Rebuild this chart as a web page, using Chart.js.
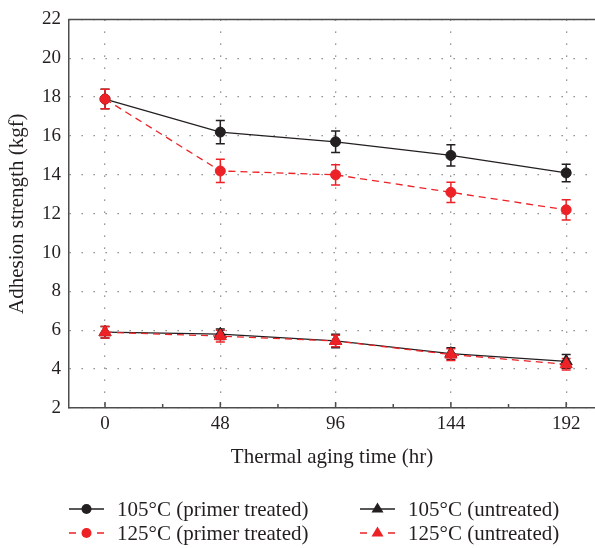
<!DOCTYPE html>
<html>
<head>
<meta charset="utf-8">
<script src="https://cdn.jsdelivr.net/npm/chart.js@4.4.1/dist/chart.umd.min.js"></script>
<style>
  body { margin: 0; background: #fff; }
  #wrap { position: relative; width: 595px; height: 548px; }
  .item { position: absolute; height: 24px; line-height: 24px; font-family: "Liberation Serif", serif;
          font-size: 21px; color: #231f20; white-space: nowrap; }
  .item canvas { position: absolute; top: 0; }
</style>
</head>
<body>
<div id="wrap">
  <canvas id="chart" width="595" height="548"></canvas>
  <div id="legend"></div>
</div>
<script>
// ---- data ----
const hours = [0, 48, 96, 144, 192];
const xTicks = [0, 48, 96, 144, 192];
const xMinorTicks = [24, 72, 120, 168];

const primer105 = [17.9, 16.2, 15.7, 15.0, 14.1];
const primer105Err = [0.5, 0.6, 0.55, 0.55, 0.45];
const primer125 = [17.9, 14.2, 14.0, 13.1, 12.2];
const primer125Err = [0.5, 0.6, 0.52, 0.52, 0.52];
const untreated105 = [5.9, 5.8, 5.45, 4.8, 4.4];
const untreated105Err = [0.3, 0.27, 0.35, 0.3, 0.35];
const untreated125 = [5.9, 5.7, 5.45, 4.75, 4.25];
const untreated125Err = [0.3, 0.3, 0.3, 0.3, 0.3];

const BLACK = "#231f20";
const RED = "#ec2227";
const AXIS = "#4d4d4d";
const FONT = "'Liberation Serif', serif";
const PLOT_TOP = 15;

function pts(vals) {
  return hours.map((h, i) => ({ x: h, y: vals[i] }));
}

const series = [
  { label: "105°C (primer treated)", data: primer105, err: primer105Err, color: BLACK, dash: [], shape: "circle", r: 5, order: 2 },
  { label: "125°C (primer treated)", data: primer125, err: primer125Err, color: RED, dash: [7, 5], shape: "circle", r: 5, order: 1 },
  { label: "105°C (untreated)", data: untreated105, err: untreated105Err, color: BLACK, dash: [], shape: "triangle", r: 7, order: 2 },
  { label: "125°C (untreated)", data: untreated125, err: untreated125Err, color: RED, dash: [7, 5], shape: "triangle", r: 7, order: 1 }
];

// ---- plugins ----
const errorBars = {
  id: "errorBars",
  beforeDatasetsDraw(chart) {
    const ctx = chart.ctx;
    const y = chart.scales.y;
    chart.getSortedVisibleDatasetMetas().slice().reverse().forEach(meta => {
      const ds = chart.data.datasets[meta.index];
      ctx.save();
      ctx.strokeStyle = ds.borderColor;
      ctx.lineWidth = 1.5;
      meta.data.forEach((p, i) => {
        const v = ds.data[i].y, e = ds.errors[i];
        const t = y.getPixelForValue(v + e), b = y.getPixelForValue(v - e);
        ctx.beginPath();
        ctx.moveTo(p.x, t); ctx.lineTo(p.x, b);
        ctx.moveTo(p.x - 4.5, t); ctx.lineTo(p.x + 4.5, t);
        ctx.moveTo(p.x - 4.5, b); ctx.lineTo(p.x + 4.5, b);
        ctx.stroke();
      });
      ctx.restore();
    });
  }
};

// top frame line + inward ticks on the time axis
const frame = {
  id: "frame",
  beforeDatasetsDraw(chart) {
    const { ctx, chartArea: a, scales: { x } } = chart;
    ctx.save();
    ctx.strokeStyle = AXIS;
    ctx.lineWidth = 1.5;
    ctx.beginPath();
    ctx.moveTo(a.left - 0.75, a.top);
    ctx.lineTo(a.right, a.top);
    xTicks.forEach(v => {
      const px = x.getPixelForValue(v);
      ctx.moveTo(px, a.bottom); ctx.lineTo(px, a.bottom - 6);
    });
    xMinorTicks.forEach(v => {
      const px = x.getPixelForValue(v);
      ctx.moveTo(px, a.bottom); ctx.lineTo(px, a.bottom - 4);
    });
    ctx.stroke();
    ctx.restore();
  }
};

// ---- chart ----
const chart = new Chart(document.getElementById("chart"), {
  type: "line",
  data: {
    datasets: series.map(s => ({
      label: s.label,
      data: pts(s.data),
      errors: s.err,
      borderColor: s.color,
      backgroundColor: s.color,
      borderWidth: 1.3,
      borderDash: s.dash,
      pointStyle: s.shape,
      pointRadius: s.r,
      pointBorderWidth: 1,
      pointBackgroundColor: s.color,
      pointBorderColor: s.color,
      order: s.order,
      tension: 0
    }))
  },
  options: {
    responsive: false,
    animation: false,
    devicePixelRatio: 1,
    // layout puts ~4.4px more above the plot than asked for
    layout: { autoPadding: false, padding: { top: 10.6, right: 0, bottom: 75, left: 0 } },
    plugins: { legend: { display: false }, tooltip: { enabled: false } },
    scales: {
      x: {
        type: "linear",
        min: -15,
        max: 204,
        afterBuildTicks: s => { s.ticks = xTicks.map(v => ({ value: v })); },
        afterFit: s => { s.height = 65; },
        ticks: { font: { family: FONT, size: 19 }, color: BLACK, padding: 5, maxRotation: 0, autoSkip: false },
        grid: { color: "#7a7a7a", lineWidth: 1.3, drawTicks: false },
        border: { display: true, color: AXIS, width: 1.5, dash: [1.3, 10.7] },
        title: { display: true, text: "Thermal aging time (hr)", font: { family: FONT, size: 21 }, color: BLACK, padding: { top: 0, bottom: 3 } }
      },
      y: {
        min: 2,
        max: 22,
        afterFit: s => { s.width = 69; },
        ticks: { stepSize: 2, font: { family: FONT, size: 19 }, color: BLACK, padding: 8 },
        grid: { color: "#7a7a7a", lineWidth: 1.3, drawTicks: false },
        border: { display: true, color: AXIS, width: 1.5, dash: [1.3, 10.7] },
        title: { display: true, text: "Adhesion strength (kgf)", font: { family: FONT, size: 21 }, color: BLACK, padding: { top: 5, bottom: 0 } }
      }
    }
  },
  plugins: [errorBars, frame]
});

// fine-tune if the plot top still misses PLOT_TOP
const extraTop = chart.chartArea.top - PLOT_TOP;
if (Math.abs(extraTop) > 0.5) {
  chart.config.options.layout.padding.top -= extraTop;
  chart.update();
}

// ---- legend (two columns) ----
const legendPos = [
  { left: 69, top: 497 },
  { left: 69, top: 521 },
  { left: 360, top: 497 },
  { left: 360, top: 521 }
];
const legendEl = document.getElementById("legend");
series.forEach((s, i) => {
  const p = legendPos[i];
  const item = document.createElement("div");
  item.className = "item";
  item.style.left = p.left + "px";
  item.style.top = p.top + "px";
  item.style.paddingLeft = "48px";
  const cv = document.createElement("canvas");
  cv.width = 36; cv.height = 24;
  cv.style.left = "0px";
  const c = cv.getContext("2d");
  c.strokeStyle = s.color;
  c.fillStyle = s.color;
  c.lineWidth = 1.5;
  c.setLineDash(s.dash.length ? [7, 21] : []);
  c.beginPath(); c.moveTo(0, 12); c.lineTo(35, 12); c.stroke();
  c.setLineDash([]);
  c.beginPath();
  if (s.shape === "circle") {
    c.arc(17.5, 12, 5, 0, Math.PI * 2);
  } else {
    c.moveTo(17.5, 5.5); c.lineTo(23.5, 15.5); c.lineTo(11.5, 15.5); c.closePath();
  }
  c.fill();
  item.appendChild(cv);
  item.appendChild(document.createTextNode(s.label));
  legendEl.appendChild(item);
});
</script>
</body>
</html>
